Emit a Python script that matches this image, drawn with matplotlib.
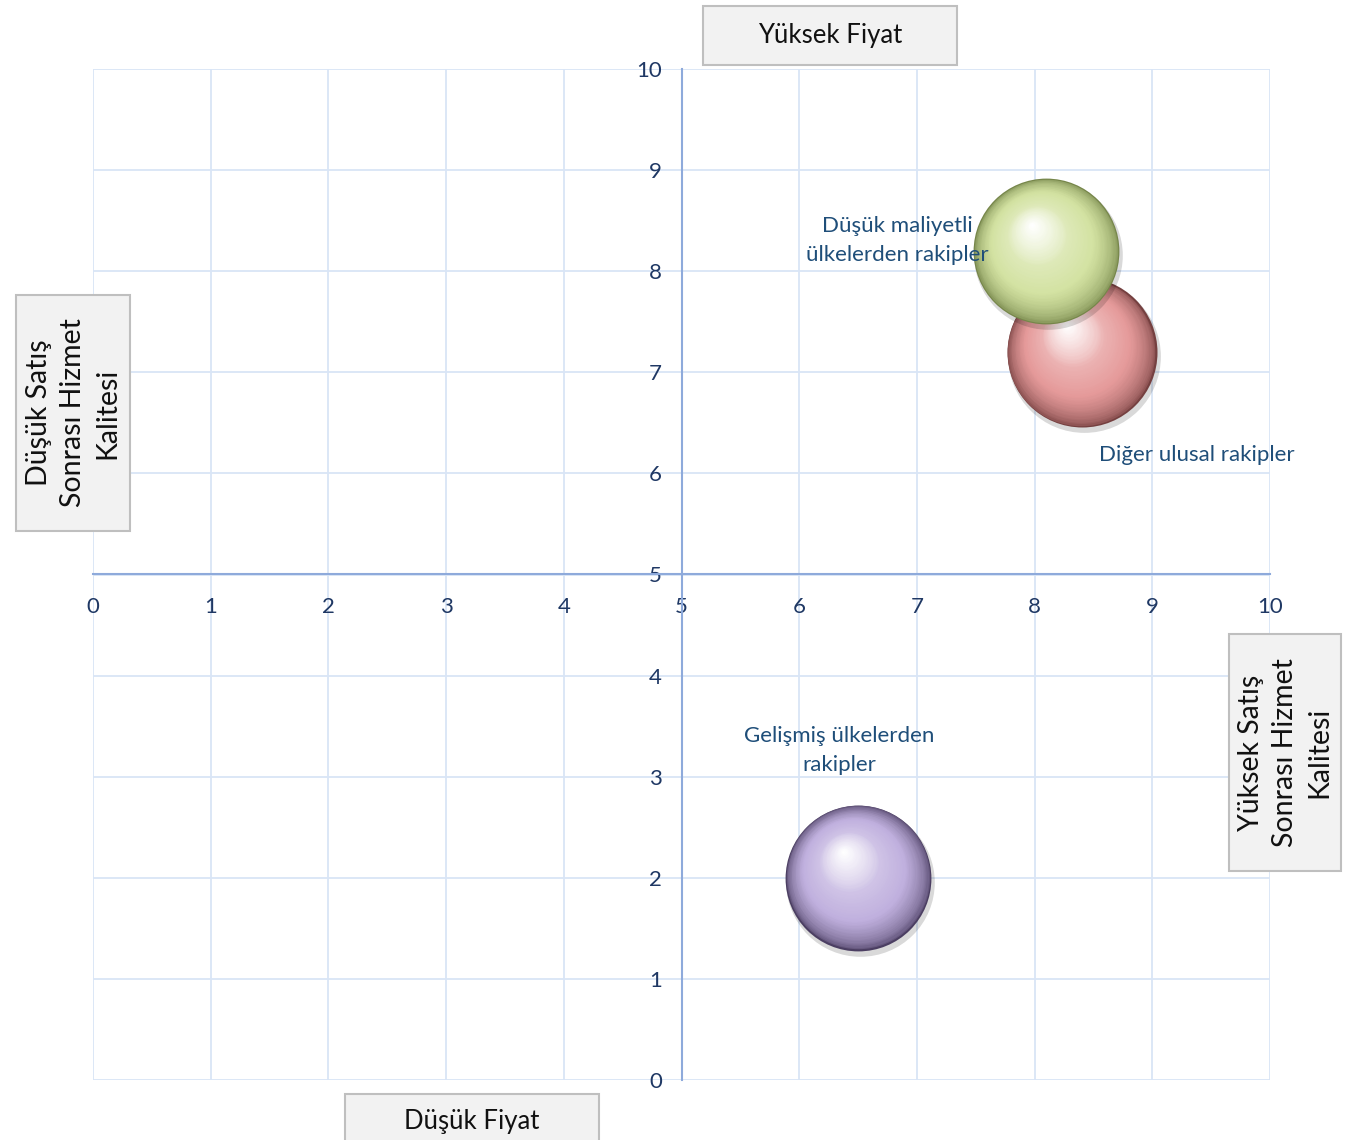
import matplotlib
matplotlib.use("Agg")
import numpy as np
import matplotlib.pyplot as plt
from matplotlib import transforms
from matplotlib.colors import to_rgb
from matplotlib.patches import Rectangle

plt.rcParams['font.family'] = ['Lato', 'DejaVu Sans']

# data
names = ['Düşük maliyetli\nülkelerden rakipler', 'Diğer ulusal rakipler', 'Gelişmiş ülkelerden\nrakipler']
price = [8.1, 8.4, 6.5]
quality = [8.2, 7.2, 2.0]
bubble_size = [10.5, 10.8, 10.5]
base_cols = ['#d3e2a2', '#e59a9a', '#c0b0de']
dark_cols = ['#76864a', '#754040', '#4b3e62']
label_x = [6.83, 9.38, 6.34]
label_y = [8.30, 6.18, 3.26]
ticks = list(range(0, 11))

fig = plt.figure(figsize=(13.48, 11.4), dpi=100)
ax = fig.add_axes([93/1348, 1-1080/1140, 1177/1348, 1011/1140])
ax.set_xlim(0, 10)
ax.set_ylim(0, 10)
ax.set_xticks(ticks)
ax.set_yticks(ticks)
ax.grid(True, color='#d9e5f6', lw=1.3)
ax.set_axisbelow(True)

for s in ['top', 'right']:
    ax.spines[s].set_visible(False)
ax.spines['left'].set_position(('data', 5))
ax.spines['bottom'].set_position(('data', 5))
for s in ['left', 'bottom']:
    ax.spines[s].set_color('#8eaadb')
    ax.spines[s].set_linewidth(1.5)
ax.tick_params(length=0, labelsize=16, labelcolor='#1f3864', pad=14)
ax.tick_params(axis='x', pad=16)


def sphere(x, y, size, base, dark, z):
    n = 60
    base = np.array(to_rgb(base))
    dark = np.array(to_rgb(dark))
    white = np.array([1.0, 1.0, 1.0])
    light = base * 0.75 + white * 0.25
    diam = size * 10  # points
    # soft shadow
    sh = transforms.offset_copy(ax.transData, fig=fig, x=1.5, y=-3, units='points')
    ax.scatter([x], [y], s=(diam + 2) ** 2, color='#000000', alpha=0.15,
               linewidths=0, transform=sh, zorder=z)
    hx, hy = -0.2 * diam / 2, 0.36 * diam / 2
    for i in range(n):
        t = i / (n - 1)
        d = diam * (1 - 0.98 * t)
        if t < 0.3:
            c = dark + (base - dark) * (t / 0.3) ** 0.5
        elif t < 0.6:
            c = base + (light - base) * (t - 0.3) / 0.3
        else:
            c = light + (white - light) * ((t - 0.6) / 0.4) ** 0.8
        c = np.clip(c, 0, 1)
        tr = transforms.offset_copy(ax.transData, fig=fig, x=hx * t, y=hy * t, units='points')
        ax.scatter([x], [y], s=d ** 2, color=c, linewidths=0, transform=tr, zorder=z + 0.01 * i)


for i in range(len(price)):
    z = 10 if i == 0 else 5
    sphere(price[i], quality[i], bubble_size[i], base_cols[i], dark_cols[i], z)

for i in range(len(names)):
    ax.text(label_x[i], label_y[i], names[i], ha='center', va='center', fontsize=16,
            color='#1f4e79', linespacing=1.55, zorder=20)


def box(x0, y0, x1, y1, text, rot, fs, ls):
    W, H = 1348, 1140
    fig.patches.append(Rectangle((x0 / W, 1 - y1 / H), (x1 - x0) / W, (y1 - y0) / H,
                                 facecolor='#f2f2f2', edgecolor='#bfbfbf', lw=1.5,
                                 transform=fig.transFigure, figure=fig))
    fig.text((x0 + x1) / 2 / W, 1 - (y0 + y1) / 2 / H, text, ha='center', va='center',
             rotation=rot, fontsize=fs, color='#111111', linespacing=ls)


box(703, 6, 957, 65, 'Yüksek Fiyat', 0, 18.5, 1.2)
box(345, 1094, 599, 1150, 'Düşük Fiyat', 0, 18.5, 1.2)
box(16, 295, 130, 531, 'Düşük Satış\nSonrası Hizmet\nKalitesi', 90, 20.5, 1.4)
box(1229, 634, 1341, 871, 'Yüksek Satış\nSonrası Hizmet\nKalitesi', 90, 20.5, 1.4)

fig.savefig('out.png', dpi=100)
